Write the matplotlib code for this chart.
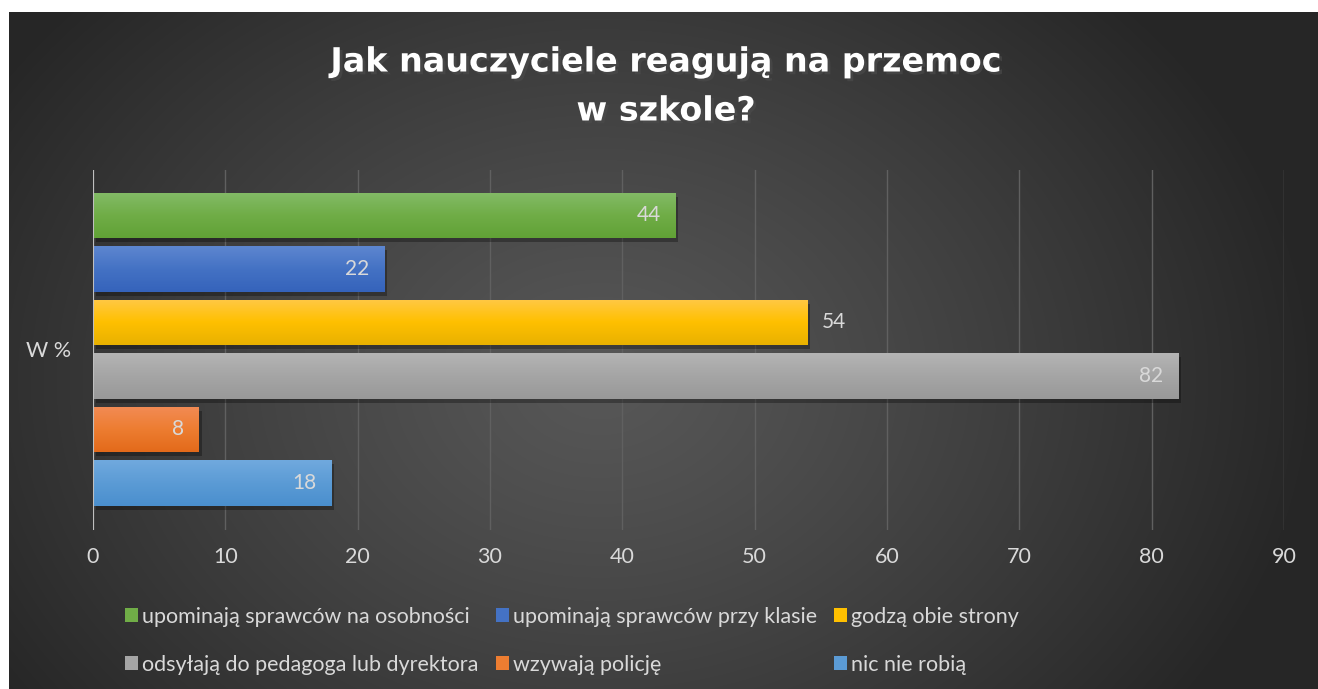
import numpy as np
import matplotlib
matplotlib.use("Agg")
import matplotlib.pyplot as plt
import matplotlib.patheffects as pe
from matplotlib.patches import Patch

# data
category = "W %"
series = ["upominają sprawców na osobności", "upominają sprawców przy klasie",
          "godzą obie strony", "odsyłają do pedagoga lub dyrektora",
          "wzywają policję", "nic nie robią"]
values = [44, 22, 54, 82, 8, 18]
colors = ["#70AD47", "#4472C4", "#FFC000", "#A5A5A5", "#ED7D31", "#5B9BD5"]
tops = ["#83bb67", "#5d86d0", "#ffc845", "#b4b4b4", "#f28b55", "#70a9de"]
bottoms = ["#61a236", "#3563bb", "#e8b100", "#999999", "#e36a1a", "#4a8fce"]
label_outside = [False, False, True, False, False, False]
xticks = [0, 10, 20, 30, 40, 50, 60, 70, 80, 90]

plt.rcParams['font.family'] = ['Lato', 'DejaVu Sans']
txt = "#d9d9d9"

W, H = 1318, 689
fig = plt.figure(figsize=(W/100, H/100), dpi=100, facecolor="white")

# dark radial background
bg = fig.add_axes([9/W, 0, (W-9)/W, (H-12)/H])
yy, xx = np.mgrid[12:H, 9:W]
r = np.sqrt(((xx-600)/720.0)**2 + ((yy-380)/560.0)**2)
v = (0x57 - (0x57-0x26)*np.clip(r, 0, 1)**1.2) / 255.0
bg.imshow(np.dstack([v, v, v]), aspect='auto', interpolation='bilinear')
bg.axis('off')

ax = fig.add_axes([93/W, 1-530/H, (1284-93)/W, 360/H])
ax.set_facecolor('none')
for s in ax.spines.values():
    s.set_visible(False)

pos = np.arange(len(values))
handles = []
for i, (name, val) in enumerate(zip(series, values)):
    b = ax.barh(pos[i], val, height=0.85, color=colors[i], label=name, zorder=3,
                path_effects=[pe.SimplePatchShadow(offset=(2, -3), alpha=0.3, shadow_rgbFace='black'), pe.Normal()])
    rect = b.patches[0]
    x0, y0 = rect.get_x(), rect.get_y()
    w, h = rect.get_width(), rect.get_height()
    c0 = np.array(matplotlib.colors.to_rgb(tops[i]))
    c1 = np.array(matplotlib.colors.to_rgb(colors[i]))
    c2 = np.array(matplotlib.colors.to_rgb(bottoms[i]))
    t = np.linspace(0, 1, 50)[:, None]
    grad = np.where(t < 0.5, c0 + (c1-c0)*(t/0.5), c1 + (c2-c1)*((t-0.5)/0.5))
    im = ax.imshow(grad[:, None, :], extent=[x0, x0+w, y0+h, y0], aspect='auto',
                   zorder=3.5, interpolation='bilinear')
    im.set_clip_path(rect)
    handles.append(Patch(facecolor=colors[i], label=name))
    if label_outside[i]:
        ax.text(val + 1.1, pos[i], str(val), va='center', ha='left', color=txt, fontsize=15, zorder=5)
    else:
        ax.text(val - 1.1, pos[i], str(val), va='center', ha='right', color=txt, fontsize=15, zorder=5)

ax.set_xlim(0, 90)
ax.set_ylim(len(values) - 1 + 0.88, -0.85)
ax.set_xticks(xticks)
ax.set_xticklabels([str(x) for x in xticks])
ax.set_yticks([(len(values) - 1) / 2])
ax.set_yticklabels([category])
ax.tick_params(axis='both', length=0, colors=txt, labelsize=15.5)
ax.tick_params(axis='x', pad=12)
ax.tick_params(axis='y', pad=16)
ax.grid(axis='x', color='#606060', linewidth=1, zorder=0)
ax.axvline(0, color='#bfbfbf', linewidth=1.5, zorder=4)
ax.set_aspect('auto')

for line, yp in [("Jak nauczyciele reagują na przemoc", 62), ("w szkole?", 111)]:
    fig.text(666/W, 1-yp/H, line, ha='center', va='center',
             color='white', fontsize=24, fontweight='bold', family=['DejaVu Sans'],
             path_effects=[pe.SimplePatchShadow(offset=(2, -2), alpha=0.6), pe.Normal()])

order = [0, 3, 1, 4, 2, 5]
leg = fig.legend([handles[k] for k in order], [series[k] for k in order], ncol=3,
                 loc='upper left', bbox_to_anchor=(114/W, 1-596/H), frameon=False,
                 fontsize=15.5, labelcolor=txt, handlelength=0.6, handleheight=0.6,
                 handletextpad=0.2, columnspacing=0.8, labelspacing=1.3, borderpad=0)

fig.savefig("out.png", dpi=100, facecolor="white")
